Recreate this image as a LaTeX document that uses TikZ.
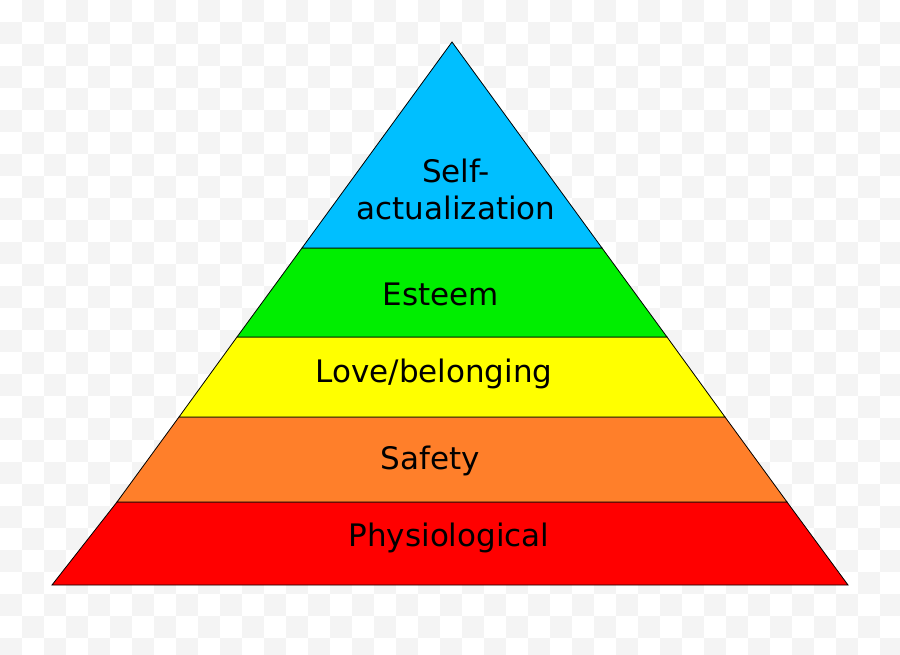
\documentclass[tikz,border=0pt]{standalone}
\usepackage{fontspec}
\setmainfont{DejaVu Sans}
\definecolor{cself}{HTML}{00BFFF}
\definecolor{cest}{HTML}{00EE00}
\definecolor{clove}{HTML}{FFFF00}
\definecolor{csafe}{HTML}{FF7F2A}
\definecolor{cphys}{HTML}{FF0000}
\definecolor{chk}{HTML}{F4F4F4}
\begin{document}
\begin{tikzpicture}[x=1pt,y=-1pt,
  band/.style={draw=black,line width=0.8pt,line join=miter},
  lbl/.style={font=\fontsize{31}{37}\selectfont,align=center,inner sep=0pt}]
\useasboundingbox (0,0) rectangle (900,655);
\fill[white] (0,0) rectangle (900,655);
\foreach \i in {0,...,40}{\foreach \j in {0,...,29}{
  \pgfmathtruncatemacro{\chkpar}{mod(\i+\j,2)}
  \ifnum\chkpar=1 \fill[chk] (\i*22,\j*22) rectangle ++(22,22);\fi}}
\filldraw[band,fill=cphys] (117,502) -- (787,502) -- (848,585) -- (52,585) -- cycle;
\filldraw[band,fill=csafe] (179,417) -- (725,417) -- (787,502) -- (117,502) -- cycle;
\filldraw[band,fill=clove] (237,337) -- (667,337) -- (725,417) -- (179,417) -- cycle;
\filldraw[band,fill=cest] (302,248) -- (602,248) -- (667,337) -- (237,337) -- cycle;
\filldraw[band,fill=cself] (452,42) -- (602,248) -- (302,248) -- cycle;
\node[lbl] (s) at (456,189) {Self-\\actualization};
\node[lbl] (e) at (441,294) {Esteem};
\node[lbl] (l) at (434,374) {Love/belonging};
\node[lbl] (f) at (430,461) {Safety};
\node[lbl] (p) at (449,538) {Physiological};
\end{tikzpicture}
\end{document}
